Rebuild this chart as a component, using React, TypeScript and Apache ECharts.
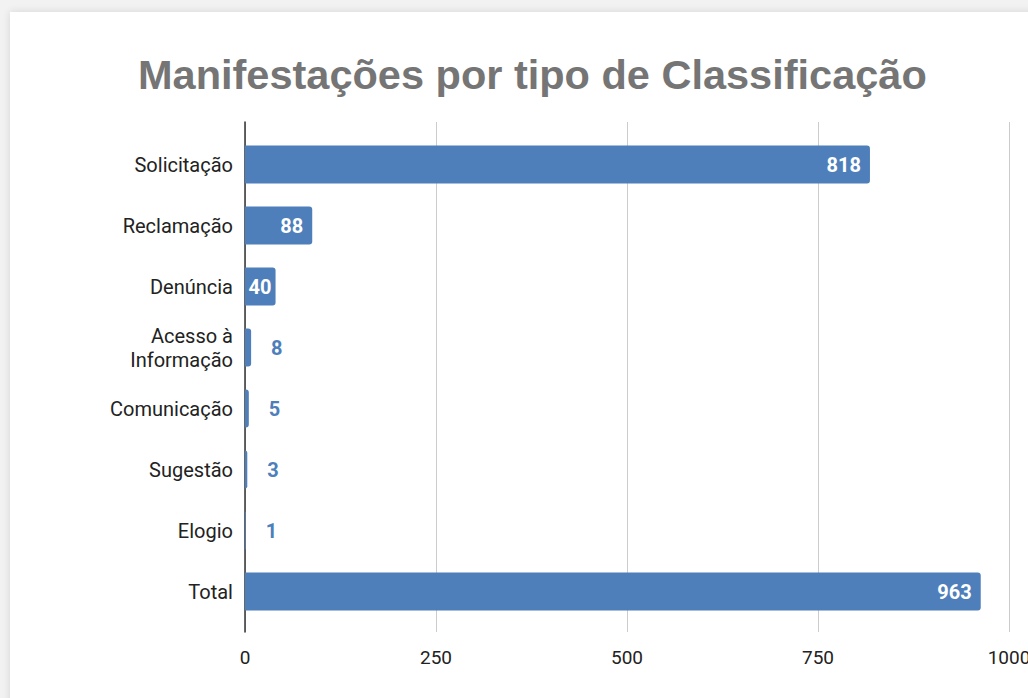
import React, { useEffect, useRef } from "react";
import * as echarts from "echarts";

const categories = ["Solicitação", "Reclamação", "Denúncia", "Acesso à\nInformação", "Comunicação", "Sugestão", "Elogio", "Total"];
const values = [818, 88, 40, 8, 5, 3, 1, 963];
const xTicks = [0, 250, 500, 750, 1000];

const BLUE = "#4e7fbb";

export default function App() {
  const ref = useRef<HTMLDivElement>(null);
  useEffect(() => {
    const chart = echarts.init(ref.current!, undefined, { renderer: "svg" });
    const data = values.map((v) => {
      const inside = v >= 20;
      return {
        value: v,
        label: {
          show: true,
          position: inside ? "insideRight" : "right",
          distance: inside ? (v < 60 ? 4 : 9) : 20,
          color: inside ? "#ffffff" : BLUE,
          fontFamily: "Roboto",
          fontWeight: "bold",
          fontSize: 20,
        },
      };
    });
    chart.setOption({
      animation: false,
      title: {
        text: "Manifestações por tipo de Classificação",
        left: 123,
        top: 36,
        textStyle: { fontFamily: "Liberation Sans", fontWeight: "bold", fontSize: 41.5, color: "#757575" },
      },
      grid: [
        { left: 235, right: 19, top: 122, bottom: 76, containLabel: false, outerBoundsMode: "none" },
        { left: 235, right: 19, top: 110, bottom: 66, containLabel: false, outerBoundsMode: "none" },
      ],
      xAxis: [
        {
          gridIndex: 0,
          type: "value",
          min: xTicks[0],
          max: xTicks[xTicks.length - 1],
          interval: 250,
          show: false,
        },
        {
          gridIndex: 1,
          type: "value",
          min: xTicks[0],
          max: xTicks[xTicks.length - 1],
          interval: 250,
          axisLine: { show: false },
          axisTick: { show: false },
          splitLine: { show: true, lineStyle: { color: "#cccccc", width: 1 } },
          axisLabel: {
            color: "#222",
            fontFamily: "Roboto",
            fontSize: 19,
            margin: 16,
            formatter: (v: number) => String(v),
          },
        },
      ],
      yAxis: [
        {
          gridIndex: 0,
          type: "category",
          data: categories,
          inverse: true,
          axisLine: { show: false },
          axisTick: { show: false },
          axisLabel: { color: "#222", fontFamily: "Roboto", fontSize: 20, margin: 12, lineHeight: 24, align: "right" },
        },
        {
          gridIndex: 1,
          type: "value",
          show: true,
          axisLine: { show: true, lineStyle: { color: "#333", width: 1.5 } },
          axisLabel: { show: false },
          axisTick: { show: false },
          splitLine: { show: false },
        },
      ],
      series: [
        {
          type: "bar",
          xAxisIndex: 0,
          yAxisIndex: 0,
          data,
          barWidth: 38,
          itemStyle: { color: BLUE, borderRadius: [0, 3, 3, 0] },
          z: 3,
        },
      ],
    });
    return () => chart.dispose();
  }, []);
  return (
    <div style={{ position: "absolute", left: 0, top: 0, width: 1028, height: 698, background: "#f2f2f2", overflow: "hidden" }}>
      <div
        style={{
          position: "absolute",
          left: 10,
          top: 12,
          width: 1040,
          height: 720,
          background: "#ffffff",
          boxShadow: "0 0 8px rgba(0,0,0,0.12)",
        }}
      >
        <div ref={ref} style={{ position: "absolute", left: 0, top: 0, width: 1018, height: 686 }} />
      </div>
    </div>
  );
}
